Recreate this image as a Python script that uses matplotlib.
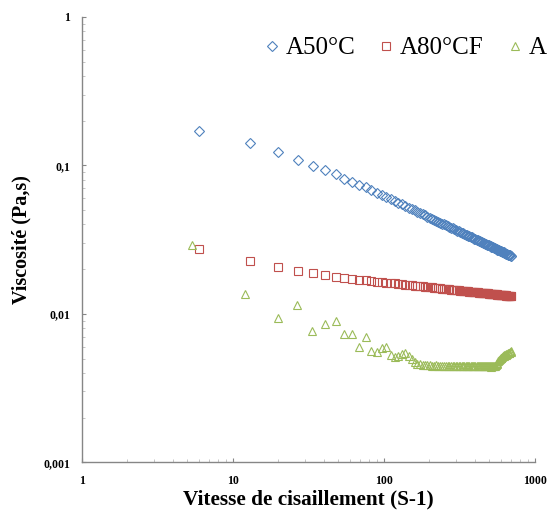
import matplotlib
matplotlib.use('Agg')
import matplotlib.pyplot as plt
from matplotlib.ticker import FixedLocator, FixedFormatter, LogLocator, NullFormatter

# Data: shear rate (1/s) and viscosity (Pa.s) for each sample
shear_rate = [
    6, 13, 20, 27, 34, 41, 48, 55, 62, 69,
    76, 83, 90, 97, 104, 111, 118, 125, 132, 139,
    146, 153, 160, 167, 174, 181, 188, 195, 202, 209,
    216, 223, 230, 237, 244, 251, 258, 265, 272, 279,
    286, 293, 300, 307, 314, 321, 328, 335, 342, 349,
    356, 363, 370, 377, 384, 391, 398, 405, 412, 419,
    426, 433, 440, 447, 454, 461, 468, 475, 482, 489,
    496, 503, 510, 517, 524, 531, 538, 545, 552, 559,
    566, 573, 580, 587, 594, 601, 608, 615, 622, 629,
    636, 643, 650, 657, 664, 671, 678, 685, 692, 699,
]
# the third sample starts at slightly lower shear rates
shear_rate_a3 = [5.4, 12.1, 19.9, 26.5, 33.5] + shear_rate[5:]

visc_a50 = [
    0.171, 0.141, 0.124, 0.109, 0.0995, 0.0931, 0.0871, 0.0810, 0.0773, 0.0741,
    0.0711, 0.0682, 0.0656, 0.0632, 0.0612, 0.0593, 0.0576, 0.0560, 0.0546, 0.0532,
    0.0520, 0.0508, 0.0497, 0.0487, 0.0478, 0.0469, 0.0460, 0.0452, 0.0445, 0.0438,
    0.0431, 0.0424, 0.0418, 0.0412, 0.0406, 0.0401, 0.0396, 0.0391, 0.0386, 0.0381,
    0.0376, 0.0372, 0.0368, 0.0364, 0.0360, 0.0356, 0.0353, 0.0349, 0.0346, 0.0342,
    0.0339, 0.0336, 0.0333, 0.0330, 0.0327, 0.0324, 0.0321, 0.0319, 0.0316, 0.0313,
    0.0311, 0.0308, 0.0306, 0.0304, 0.0302, 0.0299, 0.0297, 0.0295, 0.0293, 0.0291,
    0.0289, 0.0287, 0.0285, 0.0283, 0.0282, 0.0280, 0.0278, 0.0276, 0.0275, 0.0273,
    0.0271, 0.0270, 0.0268, 0.0267, 0.0265, 0.0264, 0.0262, 0.0261, 0.0259, 0.0258,
    0.0256, 0.0255, 0.0254, 0.0253, 0.0251, 0.0250, 0.0249, 0.0248, 0.0246, 0.0245,
]

visc_a80cf = [
    0.0272, 0.0228, 0.0206, 0.0194, 0.0187, 0.0182, 0.0178, 0.0175, 0.0171, 0.0170,
    0.0168, 0.01664, 0.01650, 0.01636, 0.01624, 0.01613, 0.01602, 0.01592, 0.01582, 0.01573,
    0.01565, 0.01557, 0.01550, 0.01542, 0.01536, 0.01529, 0.01523, 0.01517, 0.01510, 0.01505,
    0.01499, 0.01494, 0.01489, 0.01484, 0.01480, 0.01475, 0.01471, 0.01467, 0.01462, 0.01458,
    0.01454, 0.01450, 0.01447, 0.01443, 0.01439, 0.01436, 0.01433, 0.01429, 0.01426, 0.01423,
    0.01420, 0.01417, 0.01414, 0.01411, 0.01408, 0.01405, 0.01403, 0.01400, 0.01398, 0.01395,
    0.01392, 0.01390, 0.01388, 0.01385, 0.01383, 0.01380, 0.01378, 0.01376, 0.01374, 0.01372,
    0.01369, 0.01367, 0.01365, 0.01363, 0.01361, 0.01359, 0.01357, 0.01355, 0.01353, 0.01351,
    0.01349, 0.01348, 0.01346, 0.01344, 0.01343, 0.01341, 0.01339, 0.01337, 0.01336, 0.01334,
    0.01332, 0.01331, 0.01329, 0.01328, 0.01326, 0.01325, 0.01323, 0.01322, 0.01320, 0.01319,
]

visc_a3 = [
    0.0291, 0.0136, 0.00942, 0.0114, 0.00762, 0.00857, 0.00899, 0.00730, 0.00737, 0.00598,
    0.00700, 0.00564, 0.00555, 0.00586, 0.00594, 0.00527, 0.00509, 0.00519, 0.00533, 0.00547,
    0.00519, 0.00493, 0.00475, 0.00459, 0.00456, 0.00452, 0.00450, 0.00449, 0.00451, 0.00448,
    0.00447, 0.00449, 0.00446, 0.00447, 0.00445, 0.00446, 0.00448, 0.00445, 0.00444, 0.00446,
    0.00445, 0.00447, 0.00444, 0.00446, 0.00448, 0.00445, 0.00443, 0.00446, 0.00447, 0.00444,
    0.00445, 0.00447, 0.00446, 0.00444, 0.00446, 0.00448, 0.00445, 0.00443, 0.00445, 0.00447,
    0.00444, 0.00446, 0.00445, 0.00443, 0.00445, 0.00444, 0.00446, 0.00443, 0.00442, 0.00444,
    0.00443, 0.00445, 0.00442, 0.00441, 0.00443, 0.00442, 0.00444, 0.00448, 0.00455, 0.00462,
    0.00470, 0.00478, 0.00486, 0.00494, 0.00501, 0.00507, 0.00512, 0.00517, 0.00521, 0.00525,
    0.00529, 0.00532, 0.00536, 0.00539, 0.00542, 0.00545, 0.00549, 0.00552, 0.00555, 0.00558,
]

labels = ['A50°C', 'A80°CF', "A'80°C"]

x_ticks = [1, 10, 100, 1000]
x_ticklabels = ['1', '10', '100', '1000']
y_ticks = [0.001, 0.01, 0.1, 1]
y_ticklabels = ['0,001', '0,01', '0,1', '1']

plt.rcParams['font.family'] = ['Liberation Serif', 'DejaVu Serif']

fig = plt.figure(figsize=(5.47, 5.14), dpi=100)
ax = fig.add_axes([0.1494, 0.1006, 0.8281, 0.8664])

ax.plot(shear_rate, visc_a50, linestyle='none', marker='D', markersize=4.6,
        markerfacecolor='none', markeredgecolor='#4F81BD', markeredgewidth=0.8,
        label=labels[0])
ax.plot(shear_rate, visc_a80cf, linestyle='none', marker='s', markersize=6.2,
        markerfacecolor='none', markeredgecolor='#C0504D', markeredgewidth=0.8,
        label=labels[1])
ax.plot(shear_rate_a3, visc_a3, linestyle='none', marker='^', markersize=6.0,
        markerfacecolor='none', markeredgecolor='#9BBB59', markeredgewidth=0.8,
        label=labels[2])

ax.set_xscale('log')
ax.set_yscale('log')
ax.set_xlim(1, 1000)
ax.set_ylim(0.001, 1)

ax.xaxis.set_major_locator(FixedLocator(x_ticks))
ax.xaxis.set_major_formatter(FixedFormatter(x_ticklabels))
ax.yaxis.set_major_locator(FixedLocator(y_ticks))
ax.yaxis.set_major_formatter(FixedFormatter(y_ticklabels))
ax.xaxis.set_minor_locator(LogLocator(base=10, subs=range(2, 10)))
ax.yaxis.set_minor_locator(LogLocator(base=10, subs=range(2, 10)))
ax.xaxis.set_minor_formatter(NullFormatter())
ax.yaxis.set_minor_formatter(NullFormatter())

for side in ['top', 'right']:
    ax.spines[side].set_visible(False)
for side in ['left', 'bottom']:
    ax.spines[side].set_color('#868686')
    ax.spines[side].set_linewidth(1.0)

ax.tick_params(which='major', direction='in', length=3, width=0.8, color='#868686',
               labelsize=8.5)
ax.tick_params(which='minor', direction='in', length=2, width=0.6, color='#BBBBBB')
ax.tick_params(axis='y', which='major', pad=8.5)
ax.tick_params(axis='x', which='major', pad=9)
for lab in ax.get_xticklabels() + ax.get_yticklabels():
    lab.set_fontweight('bold')

ax.set_xlabel('Vitesse de cisaillement (S-1)', fontsize=15.3, fontweight='bold', labelpad=2)
ax.set_ylabel('Viscosité (Pa,s)', fontsize=14.5, fontweight='bold', labelpad=8)

fig.legend(loc='center left', bbox_to_anchor=(0.4876, 0.9066), ncol=3, frameon=False,
           fontsize=18, handlelength=0.4, handletextpad=0.36, columnspacing=1.03,
           borderpad=0, borderaxespad=0, numpoints=1, markerscale=1.0)

fig.savefig('out.png', dpi=100)
